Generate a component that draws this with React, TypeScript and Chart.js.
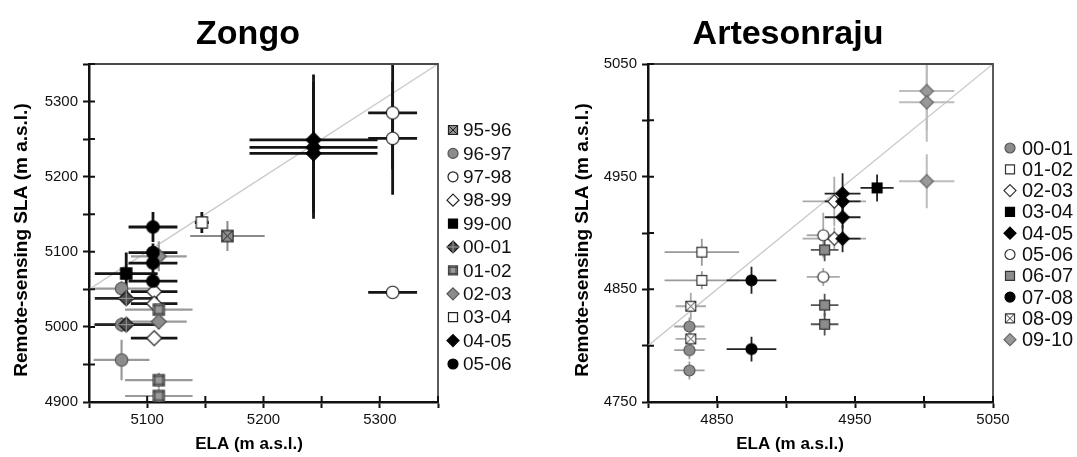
import React, { useEffect, useRef } from "react";
import { Chart, registerables } from "chart.js";

Chart.register(...registerables);

const FONT = "'Liberation Sans', Arial, Helvetica, sans-serif";

// ---------------- Zongo data ----------------
const zongoSeries = ["95-96", "96-97", "97-98", "98-99", "99-00", "00-01", "01-02", "02-03", "03-04", "04-05", "05-06"];
const zongoELA = [5169, 5078, 5311, 5106, 5082, 5082, 5110, 5110, 5147, 5243, 5105];
const zongoELAErr = [32, 24, 21, 20, 27, 27, 29, 24, 6, 55, 21];
const zongoSLA = [
  [5121],
  [5051, 5003, 4956],
  [5285, 5251, 5046],
  [5047, 5031, 4985],
  [5071],
  [5038, 5003],
  [5023, 4929, 4908],
  [5094, 5007],
  [5139],
  [5249, 5239, 5231],
  [5133, 5099, 5085, 5061],
];
const zongoSLAErr = [
  [20],
  [10, 10, 27],
  [75, 75, 8],
  [8, 8, 8],
  [28],
  [8, 8],
  [10, 10, 10],
  [20, 10],
  [14],
  [87, 87, 87],
  [20, 12, 12, 12],
];
const zongoXLabels = [5100, 5200, 5300];
const zongoYLabels = [4900, 5000, 5100, 5200, 5300];
const zongoXRange = [5050, 5350];
const zongoYRange = [4900, 5350];
const zongoOneToOne = [5050, 5350];

// ---------------- Artesonraju data ----------------
const artesSeries = ["00-01", "01-02", "02-03", "03-04", "04-05", "05-06", "06-07", "07-08", "08-09", "09-10"];
const artesELA = [4830, 4839, 4935, 4966, 4941, 4927, 4928, 4875, 4831, 5002];
const artesELAErr = [11, 27, 23, 12, 13, 12, 10, 18, 11, 20];
const artesSLA = [
  [4817, 4796, 4778],
  [4883, 4858],
  [4928, 4895],
  [4940],
  [4935, 4928, 4914, 4895],
  [4898, 4861],
  [4885, 4836, 4819],
  [4858, 4797],
  [4835, 4806],
  [5026, 5016, 4946],
];
const artesSLAErr = [
  [8, 8, 8],
  [12, 8],
  [22, 10],
  [12],
  [18, 10, 10, 12],
  [20, 8],
  [10, 10, 10],
  [12, 11],
  [12, 8],
  [35, 35, 24],
];
const artesXLabels = [4850, 4950, 5050];
const artesYLabels = [4750, 4850, 4950, 5050];
const artesXRange = [4800, 5050];
const artesYRange = [4750, 5050];
const artesOneToOne = [4800, 5050];

// ---------------- styles ----------------
type Kind = "circle" | "square" | "diamond" | "xsquare" | "gsquare" | "xdiamond";
interface Mk {
  kind: Kind;
  fill: string;
  stroke: string;
  pat?: string;
  bar: string;
  barW: number;
}

const zongoStyles: Mk[] = [
  { kind: "xsquare", fill: "#8e8e8e", stroke: "#222", pat: "#222", bar: "#8a8a8a", barW: 2 },
  { kind: "circle", fill: "#8c8c8c", stroke: "#555", bar: "#9a9a9a", barW: 2.2 },
  { kind: "circle", fill: "#ffffff", stroke: "#222", bar: "#151515", barW: 2.8 },
  { kind: "diamond", fill: "#ffffff", stroke: "#222", bar: "#151515", barW: 2.8 },
  { kind: "square", fill: "#000000", stroke: "#000", bar: "#151515", barW: 2.8 },
  { kind: "xdiamond", fill: "#4a4a4a", stroke: "#111", pat: "#9a9a9a", bar: "#222", barW: 2.8 },
  { kind: "gsquare", fill: "#9a9a9a", stroke: "#444", pat: "#444", bar: "#9a9a9a", barW: 2.2 },
  { kind: "diamond", fill: "#8c8c8c", stroke: "#555", bar: "#9a9a9a", barW: 2.2 },
  { kind: "square", fill: "#ffffff", stroke: "#222", bar: "#151515", barW: 2.8 },
  { kind: "diamond", fill: "#000000", stroke: "#000", bar: "#151515", barW: 2.8 },
  { kind: "circle", fill: "#000000", stroke: "#000", bar: "#151515", barW: 2.8 },
];

const artesStyles: Mk[] = [
  { kind: "circle", fill: "#8c8c8c", stroke: "#555", bar: "#a0a0a0", barW: 1.8 },
  { kind: "square", fill: "#ffffff", stroke: "#333", bar: "#9a9a9a", barW: 1.8 },
  { kind: "diamond", fill: "#ffffff", stroke: "#333", bar: "#aaaaaa", barW: 1.8 },
  { kind: "square", fill: "#000000", stroke: "#000", bar: "#222", barW: 1.8 },
  { kind: "diamond", fill: "#000000", stroke: "#000", bar: "#222", barW: 1.8 },
  { kind: "circle", fill: "#ffffff", stroke: "#333", bar: "#aaaaaa", barW: 1.8 },
  { kind: "square", fill: "#8c8c8c", stroke: "#333", bar: "#555", barW: 1.8 },
  { kind: "circle", fill: "#000000", stroke: "#000", bar: "#222", barW: 1.8 },
  { kind: "xsquare", fill: "#ffffff", stroke: "#333", pat: "#333", bar: "#aaaaaa", barW: 1.8 },
  { kind: "diamond", fill: "#999999", stroke: "#666", bar: "#bdbdbd", barW: 2 },
];

function drawMarker(ctx: CanvasRenderingContext2D, st: Mk, cx: number, cy: number, d: number) {
  const r = d / 2;
  ctx.save();
  ctx.lineWidth = 1.2;
  ctx.strokeStyle = st.stroke;
  ctx.fillStyle = st.fill;
  ctx.beginPath();
  const hs = r * 0.9;
  const hd = r * 1.2;
  if (st.kind === "circle") {
    ctx.arc(cx, cy, r, 0, Math.PI * 2);
  } else if (st.kind === "square" || st.kind === "xsquare" || st.kind === "gsquare") {
    ctx.rect(cx - hs, cy - hs, 2 * hs, 2 * hs);
  } else {
    ctx.moveTo(cx, cy - hd);
    ctx.lineTo(cx + hd, cy);
    ctx.lineTo(cx, cy + hd);
    ctx.lineTo(cx - hd, cy);
    ctx.closePath();
  }
  ctx.fill();
  ctx.stroke();
  ctx.lineWidth = 1;
  ctx.strokeStyle = st.pat || st.stroke;
  ctx.beginPath();
  if (st.kind === "xsquare") {
    ctx.moveTo(cx - hs, cy - hs);
    ctx.lineTo(cx + hs, cy + hs);
    ctx.moveTo(cx + hs, cy - hs);
    ctx.lineTo(cx - hs, cy + hs);
  } else if (st.kind === "gsquare") {
    for (const f of [-1 / 3, 1 / 3]) {
      ctx.moveTo(cx + f * 2 * hs, cy - hs);
      ctx.lineTo(cx + f * 2 * hs, cy + hs);
      ctx.moveTo(cx - hs, cy + f * 2 * hs);
      ctx.lineTo(cx + hs, cy + f * 2 * hs);
    }
  } else if (st.kind === "xdiamond") {
    ctx.moveTo(cx - hd, cy);
    ctx.lineTo(cx + hd, cy);
    ctx.moveTo(cx, cy - hd);
    ctx.lineTo(cx, cy + hd);
  }
  ctx.stroke();
  ctx.restore();
}

function markerCanvas(st: Mk, d: number): HTMLCanvasElement {
  const c = document.createElement("canvas");
  const s = Math.ceil(d * 1.3 + 4);
  c.width = s;
  c.height = s;
  const ctx = c.getContext("2d")!;
  drawMarker(ctx, st, s / 2, s / 2, d);
  return c;
}

interface Panel {
  title: string;
  series: string[];
  ela: number[];
  elaErr: number[];
  sla: number[][];
  slaErr: number[][];
  styles: Mk[];
  xRange: number[];
  yRange: number[];
  xLabels: number[];
  yLabels: number[];
  oneToOne: number[];
  left: number;
  w: number;
  areaLeft: number;
  areaRight: number;
  yTitleX: number;
  titleX: number;
  xTitleX: number;
  markerSize: number;
  legMarkerX: number;
  legTextX: number;
  legY0: number;
  legDy: number;
  legMarker: number;
  legFont: number;
}

const TOP = 64;
const BOTTOM = 402;
const H = 457;

const panels: Panel[] = [
  {
    title: "Zongo",
    series: zongoSeries,
    ela: zongoELA,
    elaErr: zongoELAErr,
    sla: zongoSLA,
    slaErr: zongoSLAErr,
    styles: zongoStyles,
    xRange: zongoXRange,
    yRange: zongoYRange,
    xLabels: zongoXLabels,
    yLabels: zongoYLabels,
    oneToOne: zongoOneToOne,
    left: 0,
    w: 540,
    areaLeft: 89,
    areaRight: 438,
    yTitleX: 22,
    titleX: 248,
    xTitleX: 249,
    markerSize: 12.5,
    legMarkerX: 453,
    legTextX: 463,
    legY0: 130,
    legDy: 23.4,
    legMarker: 10,
    legFont: 19,
  },
  {
    title: "Artesonraju",
    series: artesSeries,
    ela: artesELA,
    elaErr: artesELAErr,
    sla: artesSLA,
    slaErr: artesSLAErr,
    styles: artesStyles,
    xRange: artesXRange,
    yRange: artesYRange,
    xLabels: artesXLabels,
    yLabels: artesYLabels,
    oneToOne: artesOneToOne,
    left: 540,
    w: 537,
    areaLeft: 108,
    areaRight: 453,
    yTitleX: 43,
    titleX: 248,
    xTitleX: 250,
    markerSize: 11,
    legMarkerX: 470,
    legTextX: 482,
    legY0: 148,
    legDy: 21.3,
    legMarker: 10,
    legFont: 20,
  },
];

function buildConfig(p: Panel): any {
  const datasets: any[] = [
    {
      type: "line",
      label: "1:1",
      data: [
        { x: p.oneToOne[0], y: p.oneToOne[0] },
        { x: p.oneToOne[1], y: p.oneToOne[1] },
      ],
      borderColor: "#cacaca",
      borderWidth: 1.3,
      pointRadius: 0,
      order: 100,
    },
    ...p.series.map((name, i) => ({
      type: "scatter",
      label: name,
      data: p.sla[i].map((y) => ({ x: p.ela[i], y })),
      pointStyle: markerCanvas(p.styles[i], p.markerSize),
      pointRadius: 5,
      pointHoverRadius: 5,
      order: -i,
    })),
  ];

  const errorBars = {
    id: "errorBars",
    afterDatasetDraw(chart: any, args: any) {
      if (args.index !== 0) return;
      const { ctx, chartArea } = chart;
      const xs = chart.scales.x;
      const ys = chart.scales.y;
      ctx.save();
      ctx.beginPath();
      ctx.rect(chartArea.left, chartArea.top, chartArea.right - chartArea.left, chartArea.bottom - chartArea.top);
      ctx.clip();
      p.series.forEach((_, i) => {
        const st = p.styles[i];
        ctx.strokeStyle = st.bar;
        ctx.lineWidth = st.barW;
        const x = p.ela[i];
        const ex = p.elaErr[i];
        p.sla[i].forEach((y, j) => {
          const ey = p.slaErr[i][j];
          ctx.beginPath();
          ctx.moveTo(xs.getPixelForValue(x - ex), ys.getPixelForValue(y));
          ctx.lineTo(xs.getPixelForValue(x + ex), ys.getPixelForValue(y));
          ctx.moveTo(xs.getPixelForValue(x), ys.getPixelForValue(y - ey));
          ctx.lineTo(xs.getPixelForValue(x), ys.getPixelForValue(y + ey));
          ctx.stroke();
        });
      });
      ctx.restore();
    },
  };

  const frame = {
    id: "frame",
    afterDraw(chart: any) {
      const { ctx, chartArea } = chart;
      const xs = chart.scales.x;
      const ys = chart.scales.y;
      ctx.save();
      ctx.strokeStyle = "#4a4a4a";
      ctx.lineWidth = 1.8;
      ctx.beginPath();
      ctx.moveTo(chartArea.left, chartArea.top);
      ctx.lineTo(chartArea.right, chartArea.top);
      ctx.lineTo(chartArea.right, chartArea.bottom);
      ctx.stroke();
      ctx.strokeStyle = "#111";
      ctx.lineWidth = 2;
      ctx.beginPath();
      xs.ticks.forEach((t: any) => {
        const px = xs.getPixelForValue(t.value);
        ctx.moveTo(px, chartArea.bottom);
        ctx.lineTo(px, chartArea.bottom - 6);
      });
      ys.ticks.forEach((t: any) => {
        const py = ys.getPixelForValue(t.value);
        ctx.moveTo(chartArea.left, py);
        ctx.lineTo(chartArea.left + 6, py);
      });
      ctx.stroke();

      // titles
      ctx.fillStyle = "#000";
      ctx.textAlign = "center";
      ctx.textBaseline = "alphabetic";
      ctx.font = `bold 34px ${FONT}`;
      ctx.fillText(p.title, p.titleX, 44);
      ctx.font = `bold 17px ${FONT}`;
      ctx.fillText("ELA (m a.s.l.)", p.xTitleX, 449);

      ctx.save();
      ctx.translate(p.yTitleX, 240);
      ctx.rotate(-Math.PI / 2);
      ctx.textBaseline = "middle";
      ctx.font = `bold 19px ${FONT}`;
      ctx.fillText("Remote-sensing SLA (m a.s.l.)", 0, 0);
      ctx.restore();

      // legend
      ctx.font = `${p.legFont}px ${FONT}`;
      ctx.textAlign = "left";
      ctx.textBaseline = "middle";
      p.series.forEach((name, i) => {
        const y = p.legY0 + i * p.legDy;
        drawMarker(ctx, p.styles[i], p.legMarkerX, y, p.legMarker);
        ctx.fillStyle = "#111";
        ctx.fillText(name, p.legTextX, y + 1);
      });
      ctx.restore();
    },
  };

  const tickFont = { family: FONT, size: 15 };

  return {
    type: "scatter",
    data: { datasets },
    options: {
      responsive: false,
      animation: false,
      events: [],
      layout: { padding: { left: 0, right: p.w - p.areaRight, top: TOP, bottom: 0 } },
      plugins: {
        legend: { display: false },
        tooltip: { enabled: false },
        title: { display: false },
      },
      scales: {
        x: {
          type: "linear",
          position: "bottom",
          min: p.xRange[0],
          max: p.xRange[1],
          afterFit: (s: any) => {
            s.height = H - BOTTOM;
          },
          ticks: {
            stepSize: 50,
            autoSkip: false,
            maxRotation: 0,
            padding: 3,
            font: tickFont,
            color: "#111",
            callback: (v: any) => (p.xLabels.includes(Number(v)) ? String(v) : ""),
          },
          grid: { display: true, drawOnChartArea: false, drawTicks: true, tickLength: 6, tickWidth: 2, tickColor: "#111", color: "#111" },
          border: { display: true, color: "#111", width: 2.5 },
          title: { display: false },
        },
        y: {
          type: "linear",
          position: "left",
          min: p.yRange[0],
          max: p.yRange[1],
          afterFit: (s: any) => {
            s.width = p.areaLeft;
          },
          ticks: {
            stepSize: 50,
            autoSkip: false,
            padding: 5,
            font: tickFont,
            color: "#111",
            callback: (v: any) => (p.yLabels.includes(Number(v)) ? String(v) : ""),
          },
          grid: { display: true, drawOnChartArea: false, drawTicks: true, tickLength: 6, tickWidth: 2, tickColor: "#111", color: "#111" },
          border: { display: true, color: "#111", width: 2.5 },
          title: { display: false },
        },
      },
    },
    plugins: [errorBars, frame],
  };
}

function PanelChart({ p }: { p: Panel }) {
  const ref = useRef<HTMLCanvasElement>(null);
  useEffect(() => {
    const chart = new Chart(ref.current as HTMLCanvasElement, buildConfig(p));
    return () => chart.destroy();
  }, [p]);
  return (
    <canvas
      ref={ref}
      width={p.w}
      height={H}
      style={{ position: "absolute", left: p.left, top: 0, width: p.w, height: H }}
    />
  );
}

export default function App() {
  return (
    <div style={{ position: "fixed", left: 0, top: 0, width: 1077, height: H, background: "#fff", overflow: "hidden" }}>
      {panels.map((p) => (
        <PanelChart key={p.title} p={p} />
      ))}
    </div>
  );
}
